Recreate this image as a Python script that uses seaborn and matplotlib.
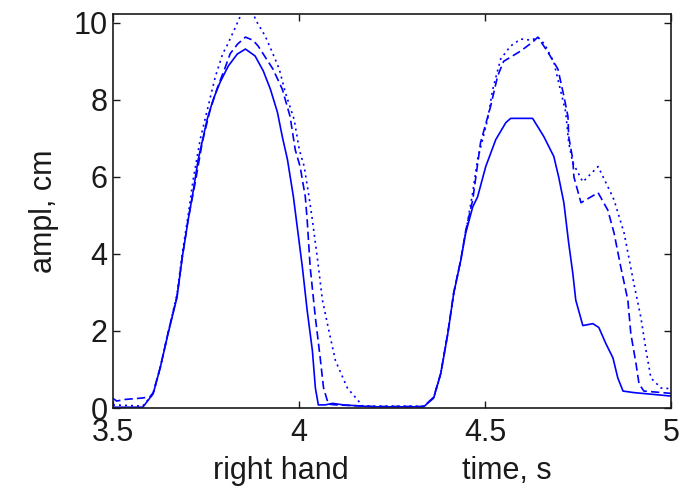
import matplotlib
matplotlib.use("Agg")
import matplotlib.pyplot as plt
import seaborn as sns
import pandas as pd
from matplotlib.ticker import FormatStrFormatter

# Hand trajectory amplitude (cm) against time (s), three repetitions
t_solid = [3.50, 3.58, 3.608, 3.627, 3.648, 3.672, 3.686, 3.702, 3.715, 3.729,
           3.753, 3.769, 3.788, 3.810, 3.834, 3.856, 3.882, 3.904, 3.923, 3.942,
           3.955, 3.969, 3.985, 4.009, 4.022, 4.036, 4.044, 4.052, 4.07, 4.09,
           4.12, 4.20, 4.335, 4.362, 4.381, 4.400, 4.416, 4.435, 4.448, 4.467,
           4.480, 4.502, 4.529, 4.556, 4.569, 4.628, 4.658, 4.685, 4.698, 4.712,
           4.725, 4.736, 4.744, 4.763, 4.790, 4.806, 4.825, 4.844, 4.857, 4.871,
           4.90, 5.0]
a_solid = [0.02, 0.02, 0.37, 1.05, 1.93, 2.87, 3.9, 4.88, 5.6, 6.45,
           7.49, 8.0, 8.46, 8.88, 9.19, 9.32, 9.14, 8.75, 8.28, 7.68,
           7.05, 6.45, 5.48, 3.66, 2.53, 1.49, 0.52, 0.08, 0.08, 0.12,
           0.08, 0.03, 0.03, 0.26, 0.89, 1.93, 2.98, 3.84, 4.54, 5.22,
           5.48, 6.27, 6.97, 7.41, 7.52, 7.52, 7.05, 6.53, 6.0, 5.33,
           4.28, 3.5, 2.8, 2.14, 2.19, 2.09, 1.67, 1.3, 0.78, 0.44,
           0.40, 0.31]

t_dashed = [3.50, 3.51, 3.53, 3.58, 3.60, 3.608, 3.627, 3.648, 3.672, 3.686,
            3.702, 3.720, 3.740, 3.760, 3.780, 3.800, 3.815, 3.835, 3.856, 3.876,
            3.890, 3.930, 3.955, 3.976, 3.990, 4.003, 4.017, 4.022, 4.030, 4.044,
            4.057, 4.066, 4.079, 4.10, 4.20, 4.335, 4.362, 4.381, 4.400, 4.416,
            4.435, 4.448, 4.467, 4.488, 4.515, 4.534, 4.550, 4.596, 4.628, 4.642,
            4.669, 4.696, 4.712, 4.723, 4.725, 4.736, 4.739, 4.758, 4.804, 4.830,
            4.847, 4.865, 4.884, 4.892, 4.906, 4.914, 4.927, 5.0]
a_dashed = [0.25, 0.18, 0.22, 0.26, 0.30, 0.40, 1.05, 1.95, 2.9, 3.9,
            4.9, 5.8, 6.9, 7.7, 8.3, 8.8, 9.2, 9.45, 9.63, 9.55,
            9.4, 8.8, 8.28, 7.57, 6.7, 6.27, 5.48, 4.88, 3.66, 2.35,
            1.3, 0.52, 0.1, 0.08, 0.04, 0.04, 0.28, 0.9, 1.95, 3.0,
            3.85, 4.6, 5.4, 6.89, 7.83, 8.62, 9.0, 9.27, 9.5, 9.63,
            9.24, 8.8, 8.1, 7.57, 7.05, 6.45, 6.0, 5.33, 5.59, 5.14,
            4.54, 3.66, 2.8, 1.93, 1.15, 0.63, 0.44, 0.38]

t_dotted = [3.50, 3.58, 3.608, 3.627, 3.648, 3.672, 3.686, 3.702, 3.715, 3.735,
            3.755, 3.775, 3.795, 3.806, 3.827, 3.848, 3.866, 3.878, 3.882, 3.909,
            3.928, 3.947, 3.963, 3.987, 4.001, 4.014, 4.027, 4.036, 4.049, 4.063,
            4.082, 4.098, 4.130, 4.160, 4.171, 4.335, 4.362, 4.381, 4.400, 4.416,
            4.435, 4.448, 4.467, 4.480, 4.507, 4.521, 4.542, 4.569, 4.596, 4.625,
            4.642, 4.66, 4.685, 4.717, 4.725, 4.736, 4.763, 4.804, 4.838, 4.847,
            4.874, 4.900, 4.919, 4.933, 4.946, 4.973, 5.0]
a_dotted = [0.08, 0.05, 0.37, 1.05, 1.95, 2.95, 4.0, 5.0, 5.9, 7.0,
            7.8, 8.6, 9.2, 9.4, 9.84, 10.3, 10.55, 10.3, 10.1, 9.66,
            9.24, 8.8, 8.2, 7.49, 6.7, 6.27, 5.48, 4.88, 3.92, 2.8,
            1.93, 1.23, 0.52, 0.18, 0.05, 0.05, 0.26, 0.89, 1.93, 2.98,
            3.84, 4.54, 5.6, 6.45, 7.49, 8.28, 9.06, 9.4, 9.58, 9.55,
            9.63, 9.45, 8.98, 7.68, 6.89, 6.37, 5.87, 6.27, 5.59, 5.4,
            4.54, 3.24, 2.35, 1.49, 0.78, 0.52, 0.5]

x_ticks = [3.5, 4.0, 4.5, 5.0]
y_ticks = [0, 2, 4, 6, 8, 10]

sns.set_theme(style="white")
plt.rcParams["font.family"] = ["Liberation Sans", "DejaVu Sans"]

ink = "#1a1a1a"
fig = plt.figure(figsize=(6.81, 4.91), dpi=100)
ax = fig.add_axes([113 / 681, 1 - 408 / 491, (671 - 113) / 681, (408 - 14) / 491])

series = [
    (t_solid, a_solid, "-"),
    (t_dashed, a_dashed, (0, (5, 2.5))),
    (t_dotted, a_dotted, (0, (1.2, 2.4))),
]
for t, a, ls in series:
    df = pd.DataFrame({"time": t, "ampl": a})
    sns.lineplot(data=df, x="time", y="ampl", ax=ax, color="#0000ff",
                 estimator=None, sort=False, linewidth=1.2, linestyle=ls)

ax.set_xlim(3.5, 5.0)
ax.set_ylim(0, 10.23)
ax.set_xticks(x_ticks)
ax.set_yticks(y_ticks)
ax.xaxis.set_major_formatter(FormatStrFormatter("%g"))
ax.yaxis.set_major_formatter(FormatStrFormatter("%g"))
ax.tick_params(direction="in", length=5, width=1.0, top=True, right=True,
               bottom=True, left=True, labelsize=22, colors=ink)
ax.tick_params(axis="x", pad=7)
ax.tick_params(axis="y", pad=4)
for s in ax.spines.values():
    s.set_color(ink)
    s.set_linewidth(1.2)

ax.set_xlabel("")
ax.set_ylabel("ampl, cm", fontsize=22, color=ink, labelpad=10)

fig.text(281 / 681, 1 - 479 / 491, "right hand", fontsize=22,
         ha="center", va="baseline", color=ink)
fig.text(507 / 681, 1 - 479 / 491, "time, s", fontsize=22,
         ha="center", va="baseline", color=ink)

fig.savefig("out.png", dpi=100)
